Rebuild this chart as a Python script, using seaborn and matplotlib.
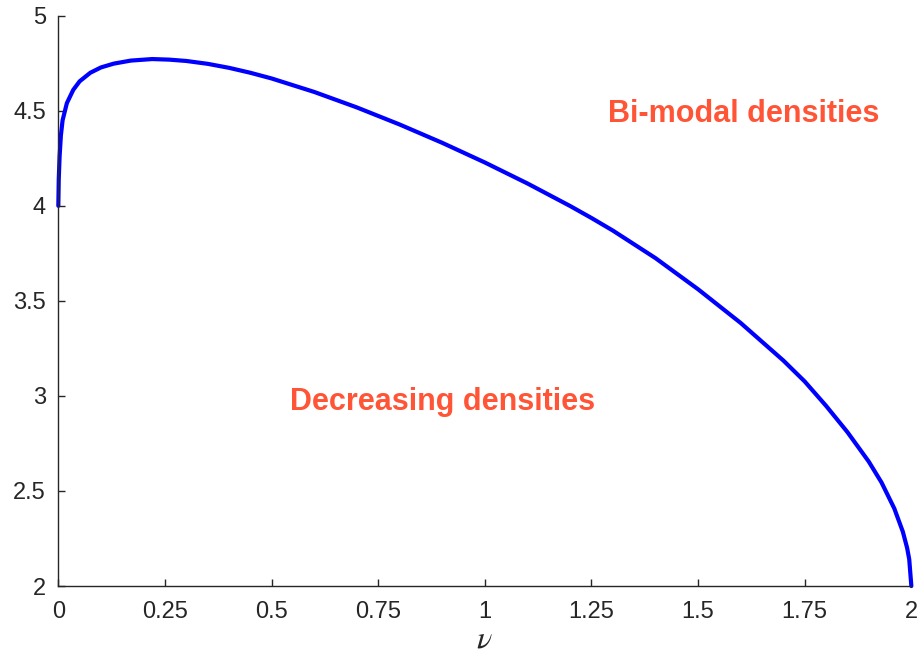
import matplotlib
matplotlib.use("Agg")
import matplotlib.pyplot as plt
import seaborn as sns
import pandas as pd

# Boundary curve between the two density regimes
nu = [0.0, 0.001, 0.003, 0.006, 0.01, 0.02, 0.035, 0.05, 0.075, 0.1, 0.13, 0.17,
      0.22, 0.26, 0.3, 0.35, 0.4, 0.45, 0.5, 0.6, 0.7, 0.8, 0.9, 1.0, 1.1, 1.2, 1.25, 1.3,
      1.4, 1.5, 1.6, 1.7, 1.75, 1.8, 1.85, 1.9, 1.93, 1.96, 1.98, 1.99, 1.995, 2.0]
boundary = [4.00, 4.14, 4.26, 4.37, 4.45, 4.54, 4.61, 4.655, 4.70, 4.728, 4.748, 4.764,
            4.772, 4.769, 4.762, 4.747, 4.726, 4.700, 4.670, 4.599, 4.5175, 4.428, 4.3315,
            4.228, 4.1175, 3.999, 3.936, 3.870, 3.725, 3.561, 3.3835, 3.186, 3.076, 2.948,
            2.81, 2.655, 2.545, 2.408, 2.286, 2.201, 2.141, 2.00]

x_ticks = [0, 0.25, 0.5, 0.75, 1, 1.25, 1.5, 1.75, 2]
x_tick_labels = ["0", "0.25", "0.5", "0.75", "1", "1.25", "1.5", "1.75", "2"]
y_ticks = [2, 2.5, 3, 3.5, 4, 4.5, 5]
y_tick_labels = ["2", "2.5", "3", "3.5", "4", "4.5", "5"]

region_labels = ["Bi-modal densities", "Decreasing densities"]
region_x = [1.606, 0.901]
region_y = [4.485, 2.968]

sns.set_style("ticks")
plt.rcParams["font.family"] = ["Liberation Sans", "DejaVu Sans"]
plt.rcParams["mathtext.fontset"] = "stix"

df = pd.DataFrame({"nu": nu, "value": boundary})

fig = plt.figure(figsize=(9.2, 6.55), dpi=100)
ax = fig.add_axes([0.0634, 0.1053, 0.9272, 0.8707])

sns.lineplot(data=df, x="nu", y="value", ax=ax, color="#0000FF", linewidth=3.0,
             sort=False, estimator=None, clip_on=False)

ax.set_xlim(0, 2)
ax.set_ylim(2, 5)
ax.set_xticks(x_ticks)
ax.set_xticklabels(x_tick_labels)
ax.set_yticks(y_ticks)
ax.set_yticklabels(y_tick_labels)

for side in ["top", "right"]:
    ax.spines[side].set_visible(False)
for side in ["left", "bottom"]:
    ax.spines[side].set_color("#262626")
    ax.spines[side].set_linewidth(1.0)
ax.tick_params(direction="in", length=5, width=1.0, colors="#262626",
               labelsize=17, labelcolor="#262626")
ax.tick_params(axis="x", pad=11)
ax.tick_params(axis="y", pad=9)

ax.set_xlabel(r"$\nu$", fontsize=23, color="#262626", labelpad=1)
ax.set_ylabel("")

for txt, tx, ty in zip(region_labels, region_x, region_y):
    ax.text(tx, ty, txt, color="#FF5436", fontsize=22, fontweight="bold",
            ha="center", va="center")

fig.savefig("out.png", dpi=100)
